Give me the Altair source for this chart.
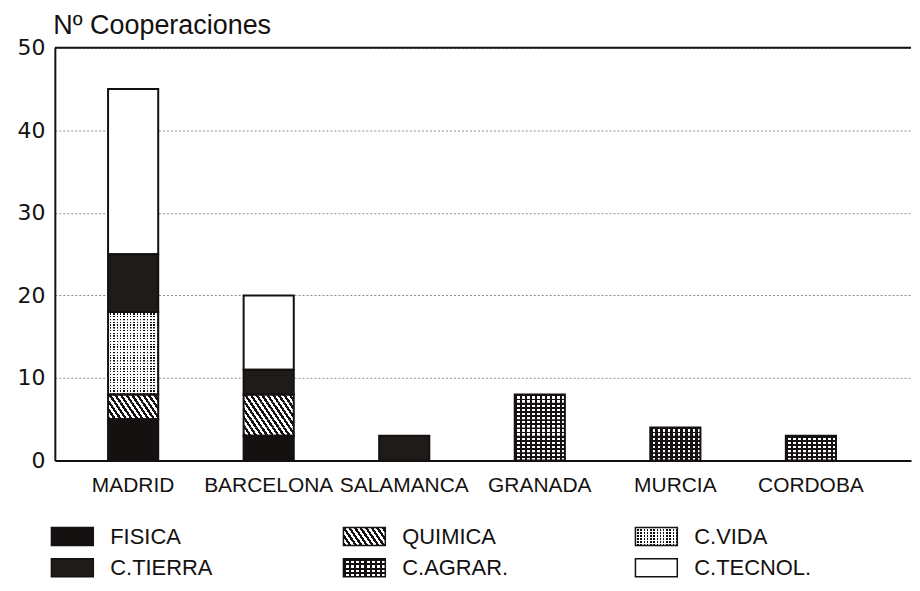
import altair as alt
import pandas as pd

# ---------------- data ----------------
cities = ["MADRID", "BARCELONA", "SALAMANCA", "GRANADA", "MURCIA", "CORDOBA"]
fields = ["FISICA", "QUIMICA", "C.VIDA", "C.TIERRA", "C.AGRAR.", "C.TECNOL."]
fisica = [5, 3, 0, 0, 0, 0]
quimica = [3, 5, 0, 0, 0, 0]
c_vida = [10, 0, 0, 0, 0, 0]
c_tierra = [7, 3, 3, 0, 0, 0]
c_agrar = [0, 0, 0, 8, 4, 3]
c_tecnol = [20, 9, 0, 0, 0, 0]
series = [fisica, quimica, c_vida, c_tierra, c_agrar, c_tecnol]
y_ticks = [0, 10, 20, 30, 40, 50]
y_title = "Nº Cooperaciones"

rows = []
for i, (cat, vals) in enumerate(zip(fields, series)):
    for city, v in zip(cities, vals):
        if v > 0:
            rows.append({"city": city, "cat": cat, "order": i, "value": v})
df = pd.DataFrame(rows)
leg_df = pd.DataFrame({"cat": fields,
                       "col": [i % 3 for i in range(len(fields))],
                       "row": [i // 3 for i in range(len(fields))]})
top_df = pd.DataFrame({"ymax": [y_ticks[-1]]})

# ---------------- styles ----------------
INK = "#141110"
FONT = "Liberation Sans"
WHITE = "#ffffff"
CLEAR = "rgba(255,255,255,0)"
PLOT_W, PLOT_H = 859, 414
BAR_W = 50.3
base_colors = [INK, WHITE, INK, "#1f1b19", WHITE, WHITE]


def stripe_stops(n, on_frac, on, off):
    stops, i, p = [], 0, 1.0 / n
    while i * p < 1 - 1e-9:
        s = i * p
        m = min((i + on_frac) * p, 1.0)
        e = min((i + 1) * p, 1.0)
        stops += [(s, on), (m, on), (m, off), (e, off)]
        i += 1
    return [alt.GradientStop(offset=round(o, 5), color=c) for o, c in stops]


def grad(x1, y1, x2, y2, stops):
    return alt.LinearGradient(gradient="linear", stops=stops, x1=x1, y1=y1, x2=x2, y2=y2)


def vstripes(n, on_frac, on, off):
    return grad(0, 0, 1, 0, stripe_stops(n, on_frac, on, off))


def hstripes(n, on_frac, on, off):
    return grad(0, 0, 0, 1, stripe_stops(n, on_frac, on, off))


def diag(nh, nv, on_frac=0.5):
    k = (nh + nv) / (nh ** 2 + nv ** 2)
    return grad(0, 1, round(k * nh, 5), round(1 - k * nv, 5),
                stripe_stops(nh + nv, on_frac, INK, WHITE))


# ---------------- main chart ----------------
x_enc = alt.X("city:N", sort=cities,
              scale=alt.Scale(paddingInner=0.63, paddingOuter=0.473, align=0.415),
              axis=alt.Axis(title=None, labelAngle=0, labelFont=FONT, labelFontSize=21,
                            labelColor=INK, labelPadding=14, ticks=False, labelOverlap=False,
                            domainColor=INK, domainWidth=2, grid=False))
y_scale = alt.Scale(domain=[y_ticks[0], y_ticks[-1]], nice=False)
y_axis = alt.Axis(values=y_ticks, title=y_title, titleAngle=0, titleAlign="left",
                  titleBaseline="alphabetic", titleX=-2, titleY=-14, titleFont=FONT,
                  titleFontSize=27, titleFontWeight="normal", titleColor=INK,
                  labelFont="DejaVu Sans", labelFontSize=22, labelColor=INK, labelPadding=10,
                  ticks=False, domainColor=INK, domainWidth=2, grid=True,
                  gridColor="#8c8c8c", gridDash=[2, 2], gridWidth=1)


def Y(field):
    return alt.Y(field, scale=y_scale, axis=y_axis)


base = alt.Chart(df).transform_stack(
    stack="value", groupby=["city"], as_=["y0", "y1"],
    sort=[alt.SortField(field="order", order="ascending")])
units = base.transform_calculate(units="sequence(datum.y0, datum.y1)") \
    .transform_flatten(["units"]).transform_calculate(u1="datum.units + 1")

seg_fill = base.mark_bar(strokeWidth=0).encode(
    x=x_enc, y=Y("y0:Q"), y2="y1:Q",
    fill=alt.Fill("cat:N", scale=alt.Scale(domain=fields, range=base_colors), legend=None))

vida_v = base.transform_filter(alt.datum.cat == "C.VIDA").mark_bar(
    strokeWidth=0, fill=vstripes(15, 0.55, WHITE, CLEAR)).encode(x=x_enc, y=Y("y0:Q"), y2="y1:Q")
vida_h = units.transform_filter(alt.datum.cat == "C.VIDA").mark_bar(
    strokeWidth=0, fill=hstripes(3, 0.55, WHITE, CLEAR)).encode(x=x_enc, y=Y("units:Q"), y2="u1:Q")
agrar_v = base.transform_filter(alt.datum.cat == "C.AGRAR.").mark_bar(
    strokeWidth=0, fill=vstripes(10, 0.45, INK, CLEAR)).encode(x=x_enc, y=Y("y0:Q"), y2="y1:Q")
agrar_h = units.transform_filter(alt.datum.cat == "C.AGRAR.").mark_bar(
    strokeWidth=0, fill=hstripes(2, 0.45, INK, CLEAR)).encode(x=x_enc, y=Y("units:Q"), y2="u1:Q")
quim_d = units.transform_filter(alt.datum.cat == "QUIMICA").mark_bar(
    strokeWidth=0, fill=diag(round(BAR_W / 5.6), 1)).encode(x=x_enc, y=Y("units:Q"), y2="u1:Q")
outline = base.mark_bar(fillOpacity=0, stroke=INK, strokeWidth=2).encode(
    x=x_enc, y=Y("y0:Q"), y2="y1:Q")
top_rule = alt.Chart(top_df).mark_rule(color=INK, strokeWidth=2).encode(y=Y("ymax:Q"))

main = alt.layer(seg_fill, vida_v, vida_h, agrar_v, agrar_h, quim_d, outline, top_rule) \
    .properties(width=PLOT_W, height=PLOT_H)

# ---------------- legend ----------------
SW_W, SW_H = 42, 18
RECT = "M-1,-{h}L1,-{h}L1,{h}L-1,{h}Z".format(h=round(SW_H / SW_W, 4))
SW_SIZE = SW_W ** 2
lx = alt.X("col:Q", scale=alt.Scale(domain=[-0.06, 2.872]), axis=None)
ly = alt.Y("row:Q", scale=alt.Scale(domain=[-0.3, 1.3], reverse=True), axis=None)
lbase = alt.Chart(leg_df)


def sw(chart, fill):
    return chart.mark_point(shape=RECT, size=SW_SIZE, filled=True, opacity=1,
                            strokeWidth=0, fill=fill).encode(x=lx, y=ly)


l_fill = lbase.mark_point(shape=RECT, size=SW_SIZE, filled=True, opacity=1, strokeWidth=0).encode(
    x=lx, y=ly, fill=alt.Fill("cat:N", scale=alt.Scale(domain=fields, range=base_colors), legend=None))
l_quim = sw(lbase.transform_filter(alt.datum.cat == "QUIMICA"), diag(7.5, 2.2))
l_vida_v = sw(lbase.transform_filter(alt.datum.cat == "C.VIDA"), vstripes(13, 0.55, WHITE, CLEAR))
l_vida_h = sw(lbase.transform_filter(alt.datum.cat == "C.VIDA"), hstripes(6, 0.55, WHITE, CLEAR))
l_agr_v = sw(lbase.transform_filter(alt.datum.cat == "C.AGRAR."), vstripes(8, 0.45, INK, CLEAR))
l_agr_h = sw(lbase.transform_filter(alt.datum.cat == "C.AGRAR."), hstripes(4, 0.45, INK, CLEAR))
l_out = lbase.mark_point(shape=RECT, size=SW_SIZE, filled=False, opacity=1, color=INK,
                         strokeWidth=1.5).encode(x=lx, y=ly)
l_text = lbase.mark_text(align="left", baseline="middle", dx=38, font=FONT, fontSize=22,
                         color=INK).encode(x=lx, y=ly, text="cat:N")

legend = alt.layer(l_fill, l_quim, l_vida_v, l_vida_h, l_agr_v, l_agr_h, l_out, l_text) \
    .properties(width=PLOT_W, height=50)

chart = alt.vconcat(main, legend, spacing=29).resolve_scale(
    x="independent", y="independent", fill="independent"
).properties(
    padding={"left": 9, "top": 3, "right": 0, "bottom": 0}
).configure_view(strokeWidth=0)

chart.save("out.html", embed_options={"renderer": "svg", "actions": False})
